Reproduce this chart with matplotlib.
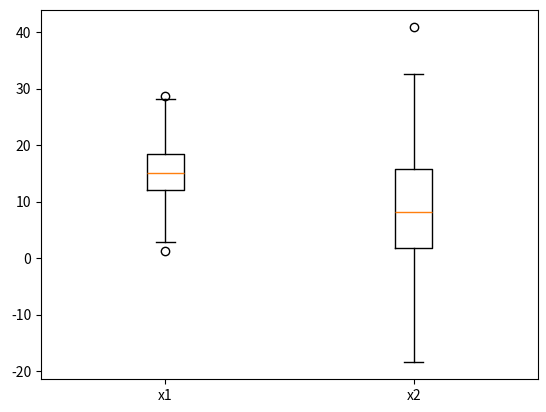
import matplotlib
matplotlib.use("Agg")
import matplotlib.pyplot as plt

plt.rcParams['font.family'] = ['Noto Sans CJK KR', 'DejaVu Sans']
plt.rcParams['axes.unicode_minus'] = False

labels = ["x1", "x2"]
medians = [15.0, 8.2]
q1s = [12.0, 1.8]
q3s = [18.5, 15.7]
whisker_low = [2.8, -18.4]
whisker_high = [28.2, 32.5]
outliers = [[28.6, 1.3], [40.9]]

stats = []
for i in range(len(labels)):
    stats.append(dict(label=labels[i], med=medians[i], q1=q1s[i], q3=q3s[i],
                      whislo=whisker_low[i], whishi=whisker_high[i],
                      fliers=outliers[i]))

fig = plt.figure(figsize=(5.46, 4.12), dpi=100)
ax = fig.add_axes([41/546, 33/412, 497/546, 369/412])
ax.bxp(stats)
ax.set_ylim(-21.4, 43.9)
ax.set_yticks([-20, -10, 0, 10, 20, 30, 40])
fig.savefig("out.png", dpi=100)
